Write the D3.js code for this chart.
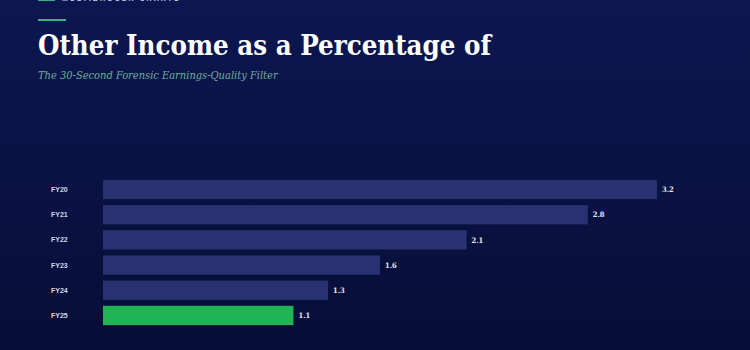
<!DOCTYPE html>
<html>
<head>
<meta charset="utf-8">
<script src="https://cdn.jsdelivr.net/npm/d3@7"></script>
<style>
  html, body { margin: 0; padding: 0; background: #0a1447; }
  svg { display: block; }
</style>
</head>
<body>
<svg id="chart" width="750" height="350"></svg>
<script>
// data
const years = ["FY20", "FY21", "FY22", "FY23", "FY24", "FY25"];
const otherIncomePct = [3.2, 2.8, 2.1, 1.6, 1.3, 1.1];
const highlightYear = "FY25";

const svg = d3.select("#chart");
const width = +svg.attr("width");
const height = +svg.attr("height");

const serif = "'DejaVu Serif Condensed', 'DejaVu Serif', Georgia, serif";

// background gradient
const defs = svg.append("defs");
const grad = defs.append("linearGradient")
    .attr("id", "bg").attr("x1", 0).attr("y1", 0).attr("x2", 0).attr("y2", 1);
grad.append("stop").attr("offset", "0%").attr("stop-color", "#0c1751");
grad.append("stop").attr("offset", "100%").attr("stop-color", "#060e37");
svg.append("rect").attr("width", width).attr("height", height).attr("fill", "url(#bg)");

// brand strip (cut off at the top, like the reference)
svg.append("line")
    .attr("x1", 38).attr("x2", 55).attr("y1", 0).attr("y2", 0)
    .attr("stroke", "#3dae86").attr("stroke-width", 2);
svg.append("text")
    .attr("x", 62).attr("y", 1)
    .attr("fill", "#c9cfe0")
    .style("font-family", "'Liberation Sans', Arial, sans-serif")
    .style("font-size", "7px")
    .style("font-weight", "bold")
    .style("letter-spacing", "2px")
    .text("MULTIBAGGER CHARTS");

svg.append("line")
    .attr("x1", 38).attr("x2", 66).attr("y1", 20).attr("y2", 20)
    .attr("stroke", "#3dae86").attr("stroke-width", 2);

svg.append("text")
    .attr("x", 38).attr("y", 55)
    .attr("fill", "#ffffff")
    .style("font-family", serif)
    .style("font-stretch", "condensed")
    .style("font-size", "27.4px")
    .style("font-weight", "bold")
    .text("Other Income as a Percentage of");

svg.append("text")
    .attr("x", 38).attr("y", 79)
    .attr("fill", "#6fae95")
    .style("font-family", serif)
    .style("font-stretch", "condensed")
    .style("font-size", "11px")
    .style("font-style", "italic")
    .text("The 30-Second Forensic Earnings-Quality Filter");

// scales
const x = d3.scaleLinear().domain([0, 3.2]).range([103, 657]);
const y = d3.scaleBand().domain(years).range([174, 331]).padding(0.234);

const rows = years.map((yr, i) => ({ year: yr, value: otherIncomePct[i] }));

svg.append("g").selectAll("rect")
    .data(rows)
  .enter().append("rect")
    .attr("x", x(0))
    .attr("y", d => y(d.year))
    .attr("width", d => x(d.value) - x(0))
    .attr("height", y.bandwidth())
    .attr("fill", d => d.year === highlightYear ? "#22b354" : "#283271");

// category labels
svg.append("g").selectAll("text")
    .data(rows)
  .enter().append("text")
    .attr("x", 51)
    .attr("y", d => y(d.year) + y.bandwidth() / 2)
    .attr("dy", "0.35em")
    .attr("fill", "#d3d7e6")
    .style("font-family", "'Liberation Sans', Arial, sans-serif")
    .style("font-size", "7px")
    .style("font-weight", "bold")
    .text(d => d.year);

// value labels
svg.append("g").selectAll("text")
    .data(rows)
  .enter().append("text")
    .attr("x", d => x(d.value) + 5)
    .attr("y", d => y(d.year) + y.bandwidth() / 2)
    .attr("dy", "0.35em")
    .attr("fill", "#e8eaf2")
    .style("font-family", serif)
    .style("font-size", "7.5px")
    .style("font-weight", "bold")
    .text(d => d.value.toFixed(1));
</script>
</body>
</html>
